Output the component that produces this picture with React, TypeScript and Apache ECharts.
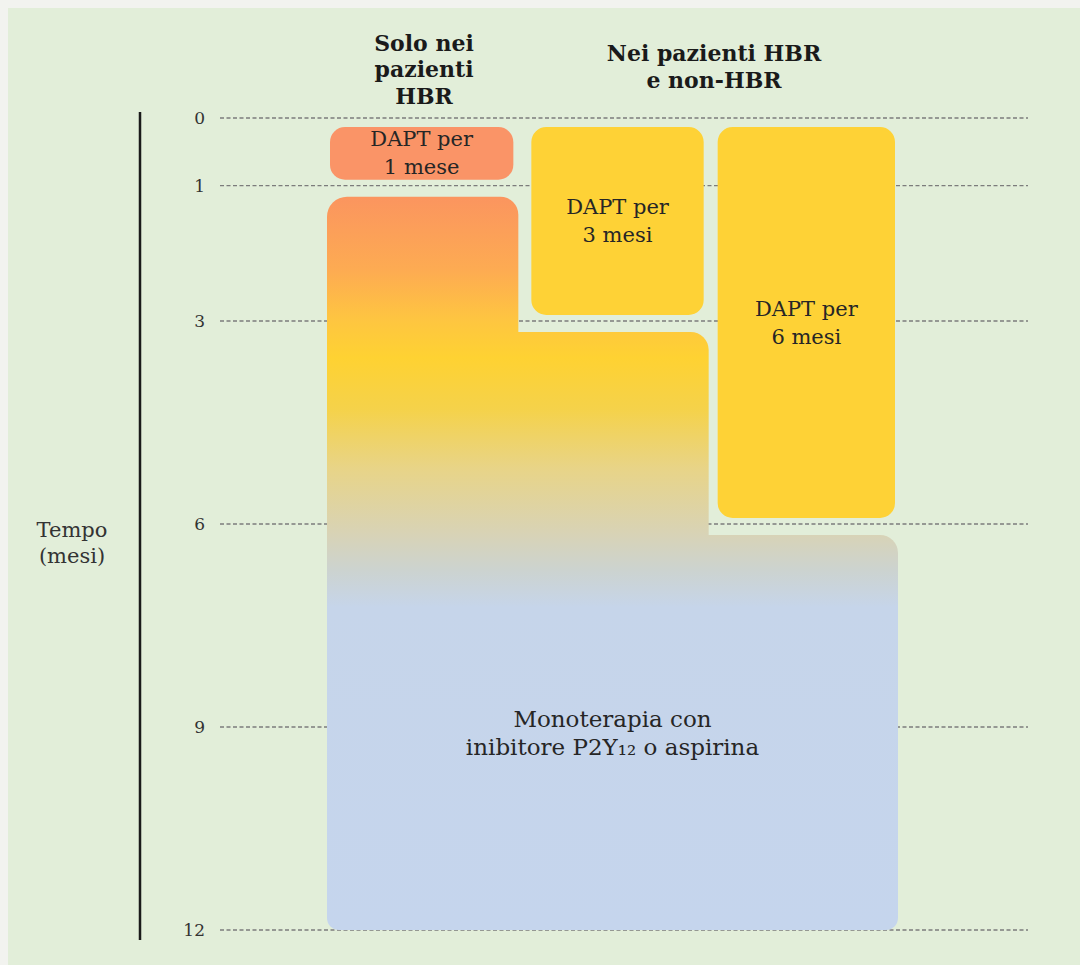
import React, { useEffect, useRef } from "react";
import * as echarts from "echarts";

// ---- Data ----
const columns = ["Solo HBR", "HBR e non-HBR (3 mesi)", "HBR e non-HBR (6 mesi)"];
const tickMonths = [0, 1, 3, 6, 9, 12];
const daptMonths = [1, 3, 6];
const daptLabels = ["DAPT per\n1 mese", "DAPT per\n3 mesi", "DAPT per\n6 mesi"];
const monoStartMonths = [1, 3, 6];
const monoEndMonth = 12;
const monoLabel = "Monoterapia con\ninibitore P2Y₁₂ o aspirina";
const headerLabels = ["Solo nei\npazienti\nHBR", "Nei pazienti HBR\ne non-HBR"];
const axisTitle = "Tempo\n(mesi)";

// ---- Styles ----
const FONT = '"DejaVu Serif", "Liberation Serif", serif';
const PAGE_BG = "#f2f3ef";
const PANEL_BG = "#e2eed9";
const GRID_COLOR = "#7c7c7c";
const TEXT = "#262626";
const daptColors = ["#fa9467", "#fed236", "#fed236"];
const GRID_TOP = 118;
const GRID_HEIGHT = 812;
const GAP_TOP = 9;
const GAP_BOTTOM = 6;
const MONO_GAP = 11;
const INSET_LEFT = [3, 14, 10];
const INSET_RIGHT = [4, 4, 3];

export default function App() {
  const ref = useRef<HTMLDivElement>(null);

  useEffect(() => {
    if (!ref.current) return;
    const chart = echarts.init(ref.current, undefined, { renderer: "svg" });

    const option: any = {
      animation: false,
      backgroundColor: PAGE_BG,
      grid: [
        { left: 220, right: 52, top: GRID_TOP, height: GRID_HEIGHT },
        { left: 327, width: 571, top: GRID_TOP, height: GRID_HEIGHT },
      ],
      xAxis: [
        { type: "value", gridIndex: 0, min: 0, max: 1, show: false },
        { type: "category", gridIndex: 1, data: columns, show: false },
      ],
      yAxis: [
        {
          type: "value",
          gridIndex: 0,
          inverse: true,
          min: 0,
          max: 12,
          axisLine: { show: false },
          axisTick: { show: false },
          splitLine: { show: false },
          axisLabel: {
            customValues: tickMonths,
            margin: 15,
            fontFamily: FONT,
            fontSize: 17,
            color: "#333333",
          },
        },
        { type: "value", gridIndex: 1, inverse: true, min: 0, max: 12, show: false },
      ],
      graphic: [
        {
          type: "rect",
          z: -10,
          silent: true,
          shape: { x: 8, y: 8, width: 1072, height: 957 },
          style: { fill: PANEL_BG },
        },
        {
          type: "line",
          silent: true,
          shape: { x1: 140, y1: 112, x2: 140, y2: 940 },
          style: { stroke: "#1a1a1a", lineWidth: 2.5 },
        },
        {
          type: "text",
          x: 72,
          y: 543,
          style: {
            text: axisTitle,
            fontFamily: FONT,
            fontSize: 21,
            lineHeight: 26,
            fill: "#333333",
            align: "center",
            verticalAlign: "middle",
          },
        },
        {
          type: "text",
          x: 424,
          y: 69,
          style: {
            text: headerLabels[0],
            fontFamily: FONT,
            fontSize: 22,
            fontWeight: "bold",
            lineHeight: 26.5,
            fill: "#1a1a1a",
            align: "center",
            verticalAlign: "middle",
          },
        },
        {
          type: "text",
          x: 714,
          y: 66.5,
          style: {
            text: headerLabels[1],
            fontFamily: FONT,
            fontSize: 22,
            fontWeight: "bold",
            lineHeight: 26.5,
            fill: "#1a1a1a",
            align: "center",
            verticalAlign: "middle",
          },
        },
      ],
      series: [
        {
          type: "custom",
          name: "grid lines",
          xAxisIndex: 0,
          yAxisIndex: 0,
          z: 1,
          silent: true,
          data: tickMonths.map((m) => [0, m]),
          renderItem: (params: any, api: any) => {
            const y = api.coord([0, api.value(1)])[1];
            const cs = params.coordSys;
            return {
              type: "line",
              shape: { x1: cs.x, y1: y, x2: cs.x + cs.width, y2: y },
              style: { stroke: GRID_COLOR, lineWidth: 1.3, lineDash: [4, 2.5] },
            };
          },
        },
        {
          type: "custom",
          name: "Monoterapia",
          xAxisIndex: 1,
          yAxisIndex: 1,
          z: 3,
          silent: true,
          data: monoStartMonths.map((m, i) => [i, m, monoEndMonth]),
          renderItem: (params: any, api: any) => {
            const i = api.value(0);
            const n = monoStartMonths.length;
            const bw = api.size([1, 0])[0];
            const top = api.coord([i, api.value(1)]);
            const bottom = api.coord([i, api.value(2)]);
            const x = top[0] - bw / 2;
            const y = top[1] + MONO_GAP;
            const w = bw + (i < n - 1 ? 1 : 0);
            const h = bottom[1] - y;
            const gy0 = api.coord([0, Math.min(...monoStartMonths)])[1] + MONO_GAP;
            const gy1 = api.coord([0, monoEndMonth])[1];
            const fill = new echarts.graphic.LinearGradient(
              0,
              gy0,
              0,
              gy1,
              [
                { offset: 0, color: "#fb955f" },
                { offset: 0.1, color: "#fdab52" },
                { offset: 0.17, color: "#fec640" },
                { offset: 0.22, color: "#fed232" },
                { offset: 0.29, color: "#f5d24a" },
                { offset: 0.37, color: "#e8d487" },
                { offset: 0.46, color: "#d8d3b6" },
                { offset: 0.51, color: "#ccd3d0" },
                { offset: 0.56, color: "#c6d5ea" },
                { offset: 1, color: "#c5d5ed" },
              ],
              true
            );
            const r = [i === 0 ? 20 : 0, 18, i === n - 1 ? 12 : 0, i === 0 ? 12 : 0];
            const children: any[] = [
              { type: "rect", shape: { x, y, width: w, height: h, r }, style: { fill } },
            ];
            if (i === n - 1) {
              const bwHalf = bw / 2;
              const left = api.coord([0, 0])[0] - bwHalf;
              const right = api.coord([n - 1, 0])[0] + bwHalf;
              const ly = (api.coord([0, Math.max(...monoStartMonths)])[1] + MONO_GAP + gy1) / 2;
              children.push({
                type: "text",
                x: (left + right) / 2,
                y: ly,
                style: {
                  text: monoLabel,
                  fontFamily: FONT,
                  fontSize: 23,
                  lineHeight: 28,
                  fill: TEXT,
                  align: "center",
                  verticalAlign: "middle",
                },
              });
            }
            return { type: "group", children };
          },
        },
        {
          type: "custom",
          name: "DAPT",
          xAxisIndex: 1,
          yAxisIndex: 1,
          z: 4,
          silent: true,
          data: daptMonths.map((m, i) => [i, 0, m]),
          renderItem: (params: any, api: any) => {
            const i = api.value(0);
            const bw = api.size([1, 0])[0];
            const s = api.coord([i, api.value(1)]);
            const e = api.coord([i, api.value(2)]);
            const x = s[0] - bw / 2 + INSET_LEFT[i];
            const w = bw - INSET_LEFT[i] - INSET_RIGHT[i];
            const y = s[1] + GAP_TOP;
            const h = e[1] - GAP_BOTTOM - y;
            return {
              type: "group",
              children: [
                {
                  type: "rect",
                  shape: { x, y, width: w, height: h, r: 15 },
                  style: { fill: daptColors[i] },
                },
                {
                  type: "text",
                  x: x + w / 2,
                  y: y + h / 2,
                  style: {
                    text: daptLabels[params.dataIndex],
                    fontFamily: FONT,
                    fontSize: 21,
                    lineHeight: 28,
                    fill: TEXT,
                    align: "center",
                    verticalAlign: "middle",
                  },
                },
              ],
            };
          },
        },
      ],
    };

    chart.setOption(option);
    return () => chart.dispose();
  }, []);

  return (
    <div
      ref={ref}
      style={{ position: "fixed", left: 0, top: 0, width: 1080, height: 965 }}
    />
  );
}
